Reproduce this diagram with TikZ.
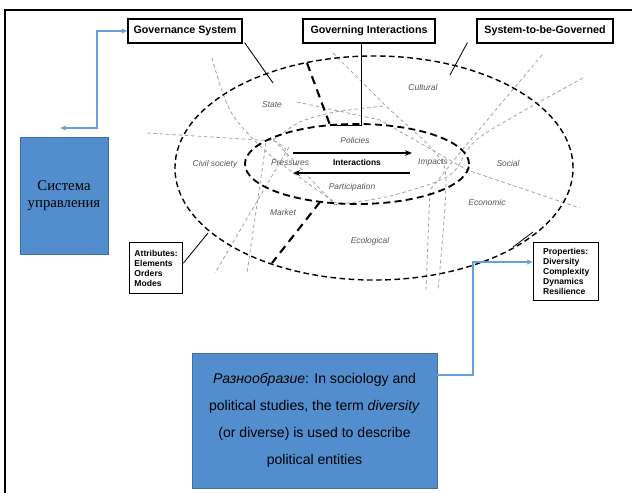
\documentclass[tikz,border=0pt]{standalone}
\usepackage{fontspec}
\setmainfont{Liberation Sans}
\newfontfamily\rufont{Liberation Serif}
\usetikzlibrary{arrows.meta}

\definecolor{boxblue}{RGB}{82,142,206}
\definecolor{boxedge}{RGB}{65,110,160}
\definecolor{linkblue}{RGB}{100,160,220}
\definecolor{areagray}{RGB}{85,85,85}

\begin{document}
\begin{tikzpicture}[x = 0.025cm, y = -0.025cm, line width = 0.6pt,
                    title/.style = {draw, line width = 0.8pt, font = \bfseries\fontsize{7.6}{9}\selectfont, minimum height = 0.6cm},
                    list/.style = {draw, line width = 0.8pt, align = left, anchor = north west, font = \bfseries\fontsize{6.1}{7}\selectfont, inner sep = 2.5pt},
                    area/.style = {font = \itshape\fontsize{6}{7}\selectfont, text = areagray},
                    bluebox/.style = {draw = boxedge, fill = boxblue, line width = 0.6pt},
                    link/.style = {draw = linkblue, line width = 0.9pt},
                    outer/.style = {dash pattern = on 4pt off 2.5pt, line width = 1pt},
                    inner/.style = {dash pattern = on 5pt off 3pt, line width = 1.3pt},
                    divider/.style = {dash pattern = on 6pt off 4pt, line width = 1.5pt},
                    split/.style = {gray!75, dash pattern = on 2.5pt off 2pt, line width = 0.55pt}]

\useasboundingbox (0,0) rectangle (632,493);

% page frame
\draw[line width = 1pt] (5,493) -- (5,10) -- (632,10);

% title boxes
\node[title, minimum width = 2.85cm] (govsys) at (185,31) {Governance System};
\node[title, minimum width = 3.3cm] (govint) at (369,31) {Governing Interactions};
\node[title, minimum width = 3.4cm] (tobegov) at (545,31) {System-to-be-Governed};

% attributes and properties
\node[list, minimum width = 1.33cm, minimum height = 1.28cm] (attr) at (129,242)
  {Attributes:\\Elements\\Orders\\Modes};
\node[list, minimum width = 1.63cm, minimum height = 1.45cm] (prop) at (533,242)
  {Properties:\\Diversity\\Complexity\\Dynamics\\Resilience};

% blue boxes
\node[bluebox, minimum width = 2.2cm, minimum height = 2.925cm, align = center,
      font = \rufont\fontsize{10.5}{12.5}\selectfont] (sysru) at (64,195.5)
  {Система\\управления};
\node[bluebox, minimum width = 6.125cm, minimum height = 3.375cm, align = center,
      font = \fontsize{10}{19.2}\selectfont] (divnote) at (314.5,420.5)
  {\textit{Разнообразие}: In sociology and\\
   political studies, the term \textit{diversity}\\
   (or diverse) is used to describe\\
   political entities};

% gray dashed boundaries
\draw[split] (147,133) -- (275,141) -- (335,205);
\draw[split] plot[smooth] coordinates {(212,58) (231,112) (270,155) (336,203)};
\draw[split] (289,147) -- (215,273);
\draw[split] (266,143) -- (247,273);
\draw[split] plot[smooth] coordinates {(268,138) (284,147) (288,160)};
\draw[split] plot[smooth] coordinates {(273,140) (300,122) (335,112) (385,106)};
\draw[split] plot[smooth] coordinates {(333,53) (387,107) (433,150) (446,180) (438,290)};
\draw[split] (542,55) -- (462,150) -- (430,190) -- (426,290);
\draw[split] plot[smooth] coordinates {(583,78) (480,137) (450,175) (390,196) (333,205)};
\draw[split] (297,102) -- (380,120) -- (467,170) -- (580,208);

% system to be governed and governance system
\draw[outer] (374,168) ellipse [x radius = 4.975cm, y radius = 2.8cm];
\draw[inner] (357,164) ellipse [x radius = 2.8cm, y radius = 1cm];

% governing interactions borders
\coordinate (divtopA) at (307,63);
\coordinate (divtopB) at (330,125);
\coordinate (divlowA) at (320,202);
\coordinate (divlowB) at (272,263);
\draw[divider] (divtopA) -- (divtopB);
\draw[divider] (divlowA) -- (divlowB);

% areas
\node[area] (state) at (272,105) {State};
\node[area] (cultural) at (423,87) {Cultural};
\node[area] (civil) at (215,164) {Civil society};
\node[area] (pressures) at (290,163) {Pressures};
\node[area] (policies) at (355,140) {Policies};
\node[font = \bfseries\fontsize{6}{7}\selectfont] (interact) at (357,162) {Interactions};
\node[area] (impacts) at (433,162) {Impacts};
\node[area] (particip) at (352,187) {Participation};
\node[area] (social) at (508,163) {Social};
\node[area] (economic) at (487,202) {Economic};
\node[area] (market) at (283,212) {Market};
\node[area] (ecolog) at (370,241) {Ecological};

% interaction arrows
\coordinate (polA) at (293,153);
\coordinate (polB) at (412,153);
\coordinate (parA) at (293,173);
\coordinate (parB) at (410,173);
\draw[-{Stealth[length = 5pt, width = 4pt]}, line width = 0.8pt] (polA) -- (polB);
\draw[-{Stealth[length = 5pt, width = 4pt]}, line width = 0.8pt] (parB) -- (parA);

% pointers from the title boxes
\coordinate (govsysend) at (273,83);
\coordinate (tobegovend) at (450,75);
\coordinate (govintbend) at (361,125);
\draw (govsys.south east) ++(2,-1) -- (govsysend);
\draw (tobegov.south west) ++(-9,-1) -- (tobegovend);
\draw (govint.south -| govintbend) -- (govintbend) -- (divtopB);
\coordinate (attrend) at (208,233);
\coordinate (propend) at (513,247);
\draw (attr.east) ++(0,-5) -- (attrend);
\draw (prop.north west) ++(0,-10) -- (propend);

% blue links
\coordinate (sysarrow) at (60,128);
\draw[link, {Latex[length = 4pt, width = 4pt]}-{Latex[length = 4pt, width = 4pt]}]
  (sysarrow) -| (97,31) -- (govsys.west);
\draw[link, -{Latex[length = 4pt, width = 4pt]}]
  (divnote.east |- 0,375) -| (473,262) -- (prop.west |- 0,262);

\end{tikzpicture}
\end{document}
